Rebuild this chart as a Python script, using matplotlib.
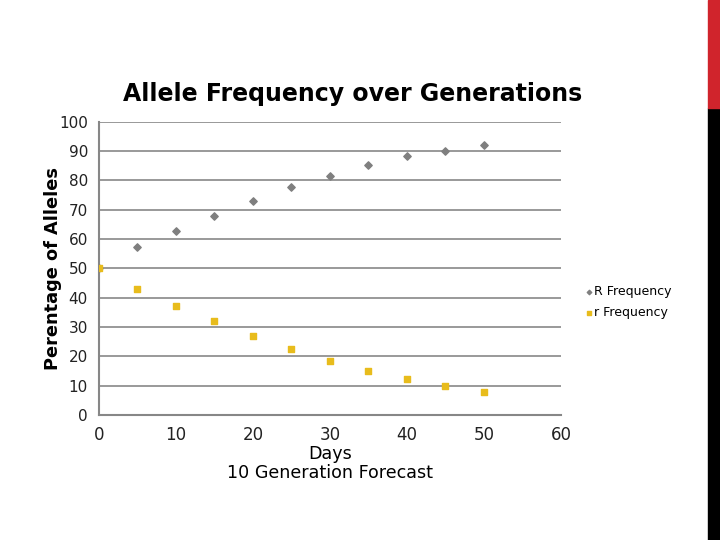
import matplotlib.pyplot as plt
from matplotlib.patches import Rectangle

days = [0, 5, 10, 15, 20, 25, 30, 35, 40, 45, 50]
big_r = [50, 57.2, 62.8, 68, 72.9, 77.7, 81.4, 85.2, 88.2, 90.2, 92]
small_r = [50, 43.1, 37.3, 32.1, 27, 22.6, 18.5, 15.1, 12.4, 9.9, 7.8]

grey = "#878787"
yellow = "#E8BC1C"

fig = plt.figure(figsize=(7.2, 5.4), dpi=100)
ax = fig.add_axes([0.1375, 0.2315, 0.6415, 0.543])

ax.scatter(days, big_r, marker="D", s=14, color="#7f7f7f", label="R Frequency", zorder=3)
ax.scatter(days, small_r, marker="s", s=22, color=yellow, label="r Frequency", zorder=4)

ax.set_xlim(0, 60)
ax.set_ylim(0, 100)
ax.set_xticks(range(0, 61, 10))
ax.set_yticks(range(0, 101, 10))
ax.yaxis.grid(True, color=grey, linewidth=1.2)
ax.set_axisbelow(True)
for s in ["top", "right"]:
    ax.spines[s].set_visible(False)
for s in ["left", "bottom"]:
    ax.spines[s].set_color(grey)
    ax.spines[s].set_linewidth(1.5)
ax.tick_params(axis="both", length=0, colors="#222222")
ax.tick_params(axis="x", pad=8, labelsize=12)
ax.tick_params(axis="y", pad=8, labelsize=11)

ax.set_title("Allele Frequency over Generations", fontsize=17, fontweight="bold", pad=15, x=0.55)
ax.set_ylabel("Perentage of Alleles", fontsize=12.8, fontweight="bold", labelpad=-2)
ax.set_xlabel("Days\n10 Generation Forecast", fontsize=12.6, labelpad=1, linespacing=1.05)

ax.legend(loc="center left", bbox_to_anchor=(1.025, 0.385), frameon=False, fontsize=9,
          handletextpad=0.0, handlelength=0.8, markerscale=0.6, labelspacing=0.6)

# decorative slide bar on the right edge
fig.patches.append(Rectangle((708 / 720, 0), 12 / 720, 1 - 108 / 540, transform=fig.transFigure, color="black"))
fig.patches.append(Rectangle((708 / 720, 1 - 108 / 540), 12 / 720, 108 / 540, transform=fig.transFigure, color="#D0242C"))

fig.savefig("out.png", dpi=100)
